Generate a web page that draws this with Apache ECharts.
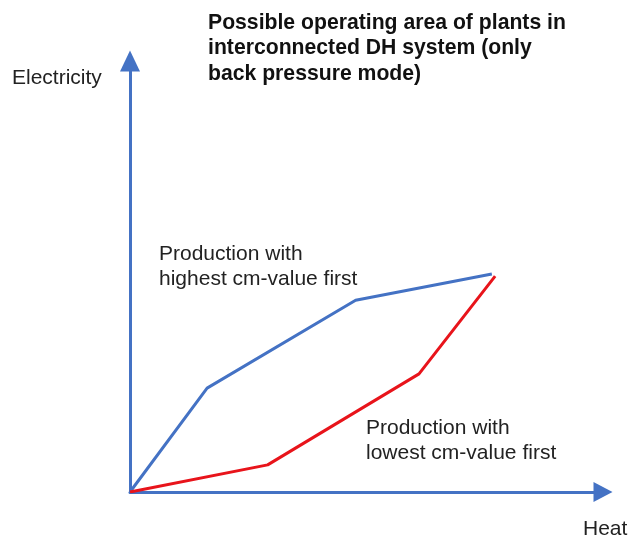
<!DOCTYPE html>
<html>
<head>
<meta charset="utf-8">
<script src="https://cdn.jsdelivr.net/npm/echarts@6/dist/echarts.min.js"></script>
<style>
html,body{margin:0;padding:0;background:#fff;}
#chart{width:629px;height:540px;}
</style>
</head>
<body>
<div id="chart"></div>
<script>
// Data (heat on x, electricity on y, arbitrary units 0-100)
var highestFirstHeat = [0, 16.3, 47.7, 76.5];
var highestFirstElec = [0, 24.1, 44.5, 50.6];
var lowestFirstHeat = [0, 29.1, 61.1, 77.2];
var lowestFirstElec = [0, 6.3, 27.4, 50.1];
var titleText = 'Possible operating area of plants in\ninterconnected DH system (only\nback pressure mode)';
var xName = 'Heat';
var yName = 'Electricity';
var highestLabel = 'Production with\nhighest cm-value first';
var lowestLabel = 'Production with\nlowest cm-value first';

function pairs(xs, ys) {
  return xs.map(function (x, i) { return [x, ys[i]]; });
}

var FONT = '"Liberation Sans", Arial, sans-serif';
var AXIS_COLOR = '#4472C4';

var chart = echarts.init(document.getElementById('chart'), null, {renderer: 'canvas'});
chart.setOption({
  backgroundColor: '#ffffff',
  animation: false,
  title: {
    text: titleText,
    left: 208,
    top: 10,
    padding: 0,
    textStyle: {
      fontFamily: FONT,
      fontSize: 21.2,
      fontWeight: 'bold',
      color: '#111111',
      lineHeight: 25.5
    }
  },
  grid: {left: 130, right: 26, top: 61, bottom: 48},
  xAxis: {
    type: 'value', min: 0, max: 100,
    axisLabel: {show: false}, axisTick: {show: false}, splitLine: {show: false},
    axisLine: {
      show: true, onZero: false,
      symbol: ['none', 'triangle'], symbolSize: [20, 19],
      lineStyle: {color: AXIS_COLOR, width: 3}
    }
  },
  yAxis: {
    type: 'value', min: 0, max: 100,
    axisLabel: {show: false}, axisTick: {show: false}, splitLine: {show: false},
    axisLine: {
      show: true, onZero: false,
      symbol: ['none', 'triangle'], symbolSize: [20, 21],
      lineStyle: {color: AXIS_COLOR, width: 3}
    }
  },
  series: [
    {
      name: 'highest',
      type: 'line',
      data: pairs(highestFirstHeat, highestFirstElec),
      symbol: 'none',
      lineStyle: {color: '#4472C4', width: 3},
      z: 3
    },
    {
      name: 'lowest',
      type: 'line',
      data: pairs(lowestFirstHeat, lowestFirstElec),
      symbol: 'none',
      lineStyle: {color: '#E8141B', width: 3},
      z: 4
    }
  ],
  graphic: [
    {type: 'text', left: 12, top: 68, style: {text: yName, font: '21px ' + FONT, fill: '#222222'}},
    {type: 'text', left: 583, top: 519, style: {text: xName, font: '21px ' + FONT, fill: '#222222'}},
    {type: 'text', left: 159, top: 242, style: {text: highestLabel, font: '21px ' + FONT, fill: '#222222', lineHeight: 24.5}},
    {type: 'text', left: 366, top: 416, style: {text: lowestLabel, font: '21px ' + FONT, fill: '#222222', lineHeight: 25}}
  ]
});
</script>
</body>
</html>
